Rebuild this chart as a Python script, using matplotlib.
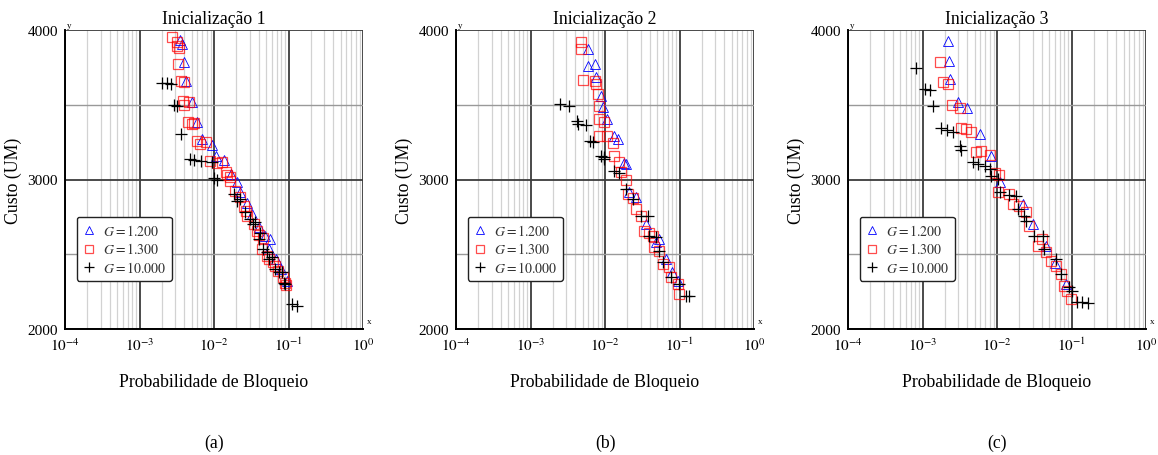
import numpy as np
import matplotlib.pyplot as plt

plt.rcParams['font.family'] = ['Liberation Serif', 'DejaVu Serif']
plt.rcParams['mathtext.fontset'] = 'stix'

# ============================================================
# DATA
# ============================================================
titles = ["Inicialização 1", "Inicialização 2", "Inicialização 3"]
captions = ["(a)", "(b)", "(c)"]
labels = [r"$G = 1.200$", r"$G = 1.300$", r"$G = 10.000$"]
xtick_vals = [1e-4, 1e-3, 1e-2, 1e-1, 1e0]
xtick_labels = [r"$10^{-4}$", r"$10^{-3}$", r"$10^{-2}$", r"$10^{-1}$", r"$10^{0}$"]
ytick_vals = [2000, 3000, 4000]

# --- Inicialização 1 ---
p1_tri_x = [3.5e-3, 3.76e-3, 3.94e-3, 4.2e-3, 5.0e-3, 5.96e-3, 7.0e-3, 9.3e-3, 1.05e-2,
            1.35e-2, 1.7e-2, 2.04e-2, 2.26e-2, 2.8e-2, 3.2e-2, 4.0e-2, 4.8e-2, 5.4e-2,
            5.7e-2, 6.8e-2, 8.0e-2, 9.5e-2]
p1_tri_y = [3930, 3906, 3784, 3660, 3520, 3383, 3270, 3231, 3159,
            3130, 3040, 2981, 2914, 2840, 2770, 2680, 2620, 2535,
            2602, 2470, 2400, 2320]
p1_sq_x = [2.76e-3, 3.22e-3, 3.4e-3, 3.22e-3, 3.28e-3, 3.56e-3, 3.94e-3, 3.87e-3, 4.0e-3,
           4.6e-3, 4.47e-3, 5.0e-3, 5.37e-3, 5.96e-3, 6.5e-3, 7.69e-3, 8.97e-3, 1.1e-2,
           1.29e-2, 1.43e-2, 1.5e-2, 1.66e-2, 1.66e-2, 1.92e-2, 2.2e-2, 2.51e-2, 2.7e-2,
           2.78e-2, 3.4e-2, 3.73e-2, 4.0e-2, 4.6e-2, 4.42e-2, 5.15e-2, 5.5e-2, 6.25e-2,
           6.6e-2, 7.2e-2, 8.5e-2, 9.06e-2, 9.2e-2]
p1_sq_y = [3951, 3918, 3880, 3895, 3773, 3661, 3650, 3523, 3500,
           3516, 3387, 3370, 3378, 3260, 3240, 3249, 3126, 3110,
           3119, 3048, 3030, 3015, 2992, 2925, 2880, 2825, 2790,
           2758, 2700, 2658, 2630, 2609, 2535, 2490, 2470, 2446,
           2420, 2390, 2350, 2306, 2295]
p1_pl_x = [2.03e-3, 2.37e-3, 2.62e-3, 2.90e-3, 3.22e-3, 3.63e-3, 4.74e-3, 5.37e-3, 6.59e-3,
           9.3e-3, 9.93e-3, 1.1e-2, 1.88e-2, 2.04e-2, 2.2e-2, 2.6e-2, 3.08e-2, 3.3e-2,
           3.59e-2, 3.97e-2, 4.2e-2, 4.6e-2, 5.15e-2, 5.5e-2, 6.01e-2, 6.65e-2, 7.5e-2,
           8.17e-2, 8.8e-2, 9.06e-2, 0.111, 0.130]
p1_pl_y = [3646, 3646, 3639, 3498, 3490, 3304, 3137, 3132, 3126,
           3115, 3008, 3000, 2903, 2858, 2870, 2781, 2736, 2700,
           2714, 2602, 2640, 2535, 2513, 2470, 2480, 2401, 2380,
           2379, 2310, 2301, 2167, 2156]

# --- Inicialização 2 ---
p2_tri_x = [5.89e-3, 5.89e-3, 7.25e-3, 7.6e-3, 8.9e-3, 9.3e-3, 1.06e-2, 1.34e-2, 1.49e-2,
            1.82e-2, 1.92e-2, 2.13e-2, 2.61e-2, 3.6e-2, 4.8e-2, 5.36e-2, 6.6e-2, 8.0e-2,
            9.42e-2]
p2_tri_y = [3873, 3761, 3773, 3686, 3561, 3483, 3405, 3293, 3271,
            3110, 3104, 2914, 2881, 2700, 2580, 2602, 2468, 2380,
            2323]
p2_sq_x = [4.81e-3, 4.81e-3, 4.99e-3, 7.25e-3, 7.6e-3, 8.02e-3, 8.2e-3, 8.43e-3, 9.84e-3,
           8.43e-3, 1.06e-2, 1.30e-2, 1.34e-2, 1.56e-2, 1.66e-2, 1.92e-2, 2.02e-2, 2.36e-2,
           2.61e-2, 3.05e-2, 3.38e-2, 3.9e-2, 4.37e-2, 4.6e-2, 5.36e-2, 5.94e-2, 7.3e-2,
           7.7e-2, 9.42e-2, 9.9e-2]
p2_sq_y = [3922, 3873, 3668, 3661, 3639, 3572, 3494, 3405, 3387,
           3293, 3289, 3244, 3159, 3119, 3048, 2999, 2903, 2874,
           2803, 2758, 2658, 2640, 2624, 2546, 2524, 2435, 2413,
           2346, 2301, 2234]
p2_pl_x = [2.46e-3, 3.28e-3, 4.2e-3, 4.4e-3, 5.61e-3, 6.21e-3, 6.87e-3, 8.9e-3, 9.84e-3,
           9.84e-3, 1.34e-2, 1.56e-2, 1.92e-2, 2.36e-2, 3.05e-2, 3.75e-2, 3.94e-2, 4.84e-2,
           5.36e-2, 5.94e-2, 7.7e-2, 9.9e-2, 0.122, 0.135]
p2_pl_y = [3505, 3494, 3393, 3370, 3365, 3260, 3249, 3159, 3149,
           3137, 3059, 3043, 2936, 2870, 2758, 2754, 2624, 2613,
           2524, 2446, 2346, 2301, 2223, 2219]

# --- Inicialização 3 ---
p3_tri_x = [2.20e-3, 2.27e-3, 2.37e-3, 2.99e-3, 3.94e-3, 5.96e-3, 8.35e-3, 1.11e-2, 2.21e-2,
            3.0e-2, 4.55e-2, 6.0e-2, 8.4e-2]
p3_tri_y = [3928, 3795, 3672, 3520, 3476, 3304, 3159, 2981, 2836,
            2700, 2557, 2440, 2301]
p3_sq_x = [1.70e-3, 1.88e-3, 2.20e-3, 2.52e-3, 3.15e-3, 3.33e-3, 3.87e-3, 4.52e-3, 5.27e-3,
           6.15e-3, 7.94e-3, 9.27e-3, 1.08e-2, 1.03e-2, 1.47e-2, 1.62e-2, 2.0e-2, 2.46e-2,
           2.72e-2, 3.5e-2, 4.0e-2, 4.55e-2, 5.3e-2, 6.2e-2, 7.2e-2, 8.0e-2, 8.8e-2, 9.8e-2]
p3_sq_y = [3788, 3654, 3639, 3498, 3476, 3342, 3338, 3320, 3186,
           3193, 3164, 3043, 3030, 2914, 2903, 2836, 2820, 2781,
           2691, 2557, 2600, 2513, 2457, 2423, 2368, 2290, 2256, 2201]
p3_pl_x = [8.3e-4, 1.07e-3, 1.28e-3, 1.38e-3, 1.79e-3, 2.13e-3, 2.57e-3, 3.15e-3, 3.33e-3,
           4.74e-3, 5.53e-3, 6.81e-3, 7.94e-3, 8.35e-3, 1.03e-2, 1.11e-2, 1.47e-2, 1.81e-2,
           1.9e-2, 2.32e-2, 2.46e-2, 3.18e-2, 4.1e-2, 4.3e-2, 6.2e-2, 7.2e-2, 9.33e-2,
           0.103, 0.12, 0.14, 0.164]
p3_pl_y = [3744, 3605, 3601, 3490, 3342, 3333, 3316, 3222, 3199,
           3119, 3104, 3092, 3070, 3025, 3003, 2914, 2896, 2892,
           2803, 2758, 2724, 2624, 2620, 2535, 2468, 2368, 2279,
           2256, 2183, 2179, 2174]

panels = [
    (p1_tri_x, p1_tri_y, p1_sq_x, p1_sq_y, p1_pl_x, p1_pl_y),
    (p2_tri_x, p2_tri_y, p2_sq_x, p2_sq_y, p2_pl_x, p2_pl_y),
    (p3_tri_x, p3_tri_y, p3_sq_x, p3_sq_y, p3_pl_x, p3_pl_y),
]

# ============================================================
# FIGURE
# ============================================================
fig = plt.figure(figsize=(11.58, 4.56), dpi=100)
lefts = [65 / 1158, 456 / 1158, 848 / 1158]
ax_w = 298 / 1158
ax_b = 1 - 330 / 456
ax_h = 299 / 456

for i, (tx, ty, sx, sy, px, py) in enumerate(panels):
    ax = fig.add_axes([lefts[i], ax_b, ax_w, ax_h])
    ax.set_xscale('log')
    ax.set_xlim(1e-4, 1)
    ax.set_ylim(2000, 4000)
    ax.set_axisbelow(True)

    h1, = ax.plot(tx, ty, '^', ms=6.5, mfc='none', mec='blue', mew=0.6, label=labels[0])
    h2, = ax.plot(sx, sy, 's', ms=6.5, mfc='none', mec='red', mew=0.9, alpha=0.7, label=labels[1])
    h3, = ax.plot(px, py, '+', ms=9, color='black', mew=0.9, label=labels[2])

    ax.set_xticks(xtick_vals)
    ax.set_xticklabels(xtick_labels)
    ax.set_yticks(ytick_vals)
    ax.set_yticks([2500, 3500], minor=True)
    ax.tick_params(which='both', length=0, labelsize=11, pad=5)

    ax.xaxis.grid(True, which='major', color='#3c3c3c', lw=1.3)
    ax.yaxis.grid(True, which='major', color='#3c3c3c', lw=1.3)
    ax.xaxis.grid(True, which='minor', color='#d2d2d2', lw=0.9)
    ax.yaxis.grid(True, which='minor', color='#999999', lw=1.0)

    for s in ['top', 'right']:
        ax.spines[s].set_visible(False)
    for s in ['left', 'bottom']:
        ax.spines[s].set_linewidth(1.4)
        ax.spines[s].set_color('black')

    ax.text(1.012, 0.012, 'x', transform=ax.transAxes, fontsize=6.5, ha='left', va='bottom')
    ax.text(0.006, 1.005, 'y', transform=ax.transAxes, fontsize=6.5, ha='left', va='bottom')

    ax.set_title(titles[i], fontsize=12.8, pad=5)
    ax.set_xlabel("Probabilidade de Bloqueio", fontsize=12.8, labelpad=14)
    ax.set_ylabel("Custo (UM)", fontsize=12.8, labelpad=4)

    leg = ax.legend(handles=[h1, h2, h3], loc='lower left', bbox_to_anchor=(0.039, 0.16),
                    borderaxespad=0, fancybox=True, framealpha=1, edgecolor='#222222',
                    fontsize=10, handlelength=0.9, handletextpad=0.55, labelspacing=0.28,
                    borderpad=0.42, markerscale=0.8)
    leg.get_frame().set_linewidth(1.0)
    for t in leg.get_texts():
        t.set_color('#333333')

    fig.text(lefts[i] + ax_w / 2, 1 - 443 / 456, captions[i], fontsize=12.8,
             ha='center', va='center')

fig.savefig("out.png", dpi=100)
